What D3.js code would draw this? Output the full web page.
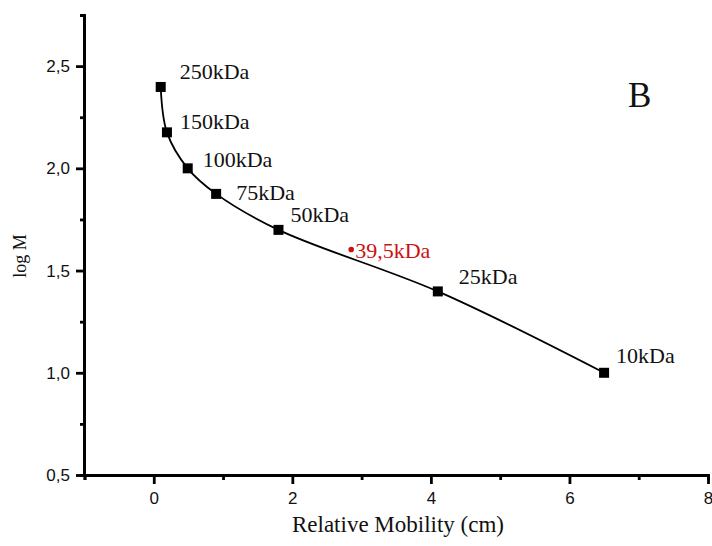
<!DOCTYPE html>
<html><head><meta charset="utf-8">
<script src="https://cdn.jsdelivr.net/npm/d3@7"></script>
<style>body{margin:0;background:#fff}</style>
</head><body>
<svg id="c" width="712" height="546"></svg>
<script>
const labels = ["250kDa","150kDa","100kDa","75kDa","50kDa","25kDa","10kDa"];
const mobility = [0.1, 0.19, 0.49, 0.9, 1.8, 4.1, 6.5];
const logM = [2.398, 2.176, 2.0, 1.875, 1.699, 1.398, 1.0];
const unknownLabel = "39,5kDa";
const unknownX = 2.85;
const unknownY = 1.603;
const xTicks = [0, 2, 4, 6, 8];
const xMinor = [-1, 1, 3, 5, 7];
const yTicks = [0.5, 1.0, 1.5, 2.0, 2.5];
const yMinor = [0.75, 1.25, 1.75, 2.25];
const labelDx = [19, 13, 15, 20, 12, 21, 12];
const labelDy = [-8, -3, -1, 6, -8, -7, -10];

const svg = d3.select("#c");
const L = 84, R = 708, T = 15, B = 475;
const x = d3.scaleLinear().domain([-1, 8]).range([L + 0.5, R]);
const y = d3.scaleLinear().domain([0.5, 2.75]).range([B, T]);
const fmt = d => d3.format(".1f")(d).replace(".", ",");
const serif = "'Liberation Serif', 'Times New Roman', serif";
const sans = "'Liberation Sans', Arial, sans-serif";

// axes
const xa = svg.append("g").attr("transform", `translate(0,${B})`)
  .call(d3.axisBottom(x).tickValues(xTicks).tickSize(9).tickPadding(8).tickFormat(d3.format("d")));
const xm = svg.append("g").attr("transform", `translate(0,${B})`)
  .call(d3.axisBottom(x).tickValues(xMinor).tickSize(5).tickFormat(""));
const ya = svg.append("g").attr("transform", `translate(${L},0)`)
  .call(d3.axisLeft(y).tickValues(yTicks).tickSize(8).tickPadding(6).tickFormat(fmt));
const ym = svg.append("g").attr("transform", `translate(${L},0)`)
  .call(d3.axisLeft(y).tickValues(yMinor).tickSize(4).tickFormat(""));
[xa, xm, ya, ym].forEach(g => {
  g.attr("font-family", null);
  g.selectAll("path.domain").attr("stroke", "#000").attr("stroke-width", 2.8);
  g.selectAll(".tick line").attr("stroke", "#000").attr("stroke-width", 2.8);
  g.selectAll("text").attr("fill", "#111").style("font-family", sans).style("font-size", "17px");
});
xa.select("path.domain").attr("d", `M${L},0.5H${R}`);
ya.select("path.domain").attr("d", `M0.5,${T}V${B}`);

// curve
const pts = mobility.map((m, i) => [m, logM[i]]);
svg.append("path").datum(pts)
  .attr("fill", "none").attr("stroke", "#000").attr("stroke-width", 1.8)
  .attr("d", d3.line().x(d => x(d[0])).y(d => y(d[1])).curve(d3.curveCatmullRom.alpha(0.5)));

// markers
svg.selectAll("rect.m").data(pts).enter().append("rect").attr("class", "m")
  .attr("x", d => x(d[0]) - 5).attr("y", d => y(d[1]) - 5)
  .attr("width", 10).attr("height", 10).attr("fill", "#000");

// labels
svg.selectAll("text.lb").data(pts).enter().append("text").attr("class", "lb")
  .attr("x", (d, i) => x(d[0]) + labelDx[i]).attr("y", (d, i) => y(d[1]) + labelDy[i])
  .style("font-family", serif).style("font-size", "22px")
  .attr("fill", "#111").text((d, i) => labels[i]);

// unknown
svg.append("circle").attr("cx", x(unknownX)).attr("cy", y(unknownY)).attr("r", 2.8).attr("fill", "#cc1111");
svg.append("text").attr("x", x(unknownX) + 4).attr("y", y(unknownY) + 9)
  .style("font-family", serif).style("font-size", "22px")
  .attr("fill", "#cc1111").text(unknownLabel);

// panel letter
svg.append("text").attr("x", 628).attr("y", 107)
  .style("font-family", serif).style("font-size", "35px").attr("fill", "#111").text("B");

// axis titles
svg.append("text").attr("x", 398).attr("y", 532).attr("text-anchor", "middle")
  .style("font-family", serif).style("font-size", "23px").attr("fill", "#111").text("Relative Mobility (cm)");
svg.append("text").attr("transform", `translate(26,256) rotate(-90)`).attr("text-anchor", "middle")
  .style("font-family", serif).style("font-size", "18px").attr("fill", "#111").text("log M");
</script>
</body></html>
